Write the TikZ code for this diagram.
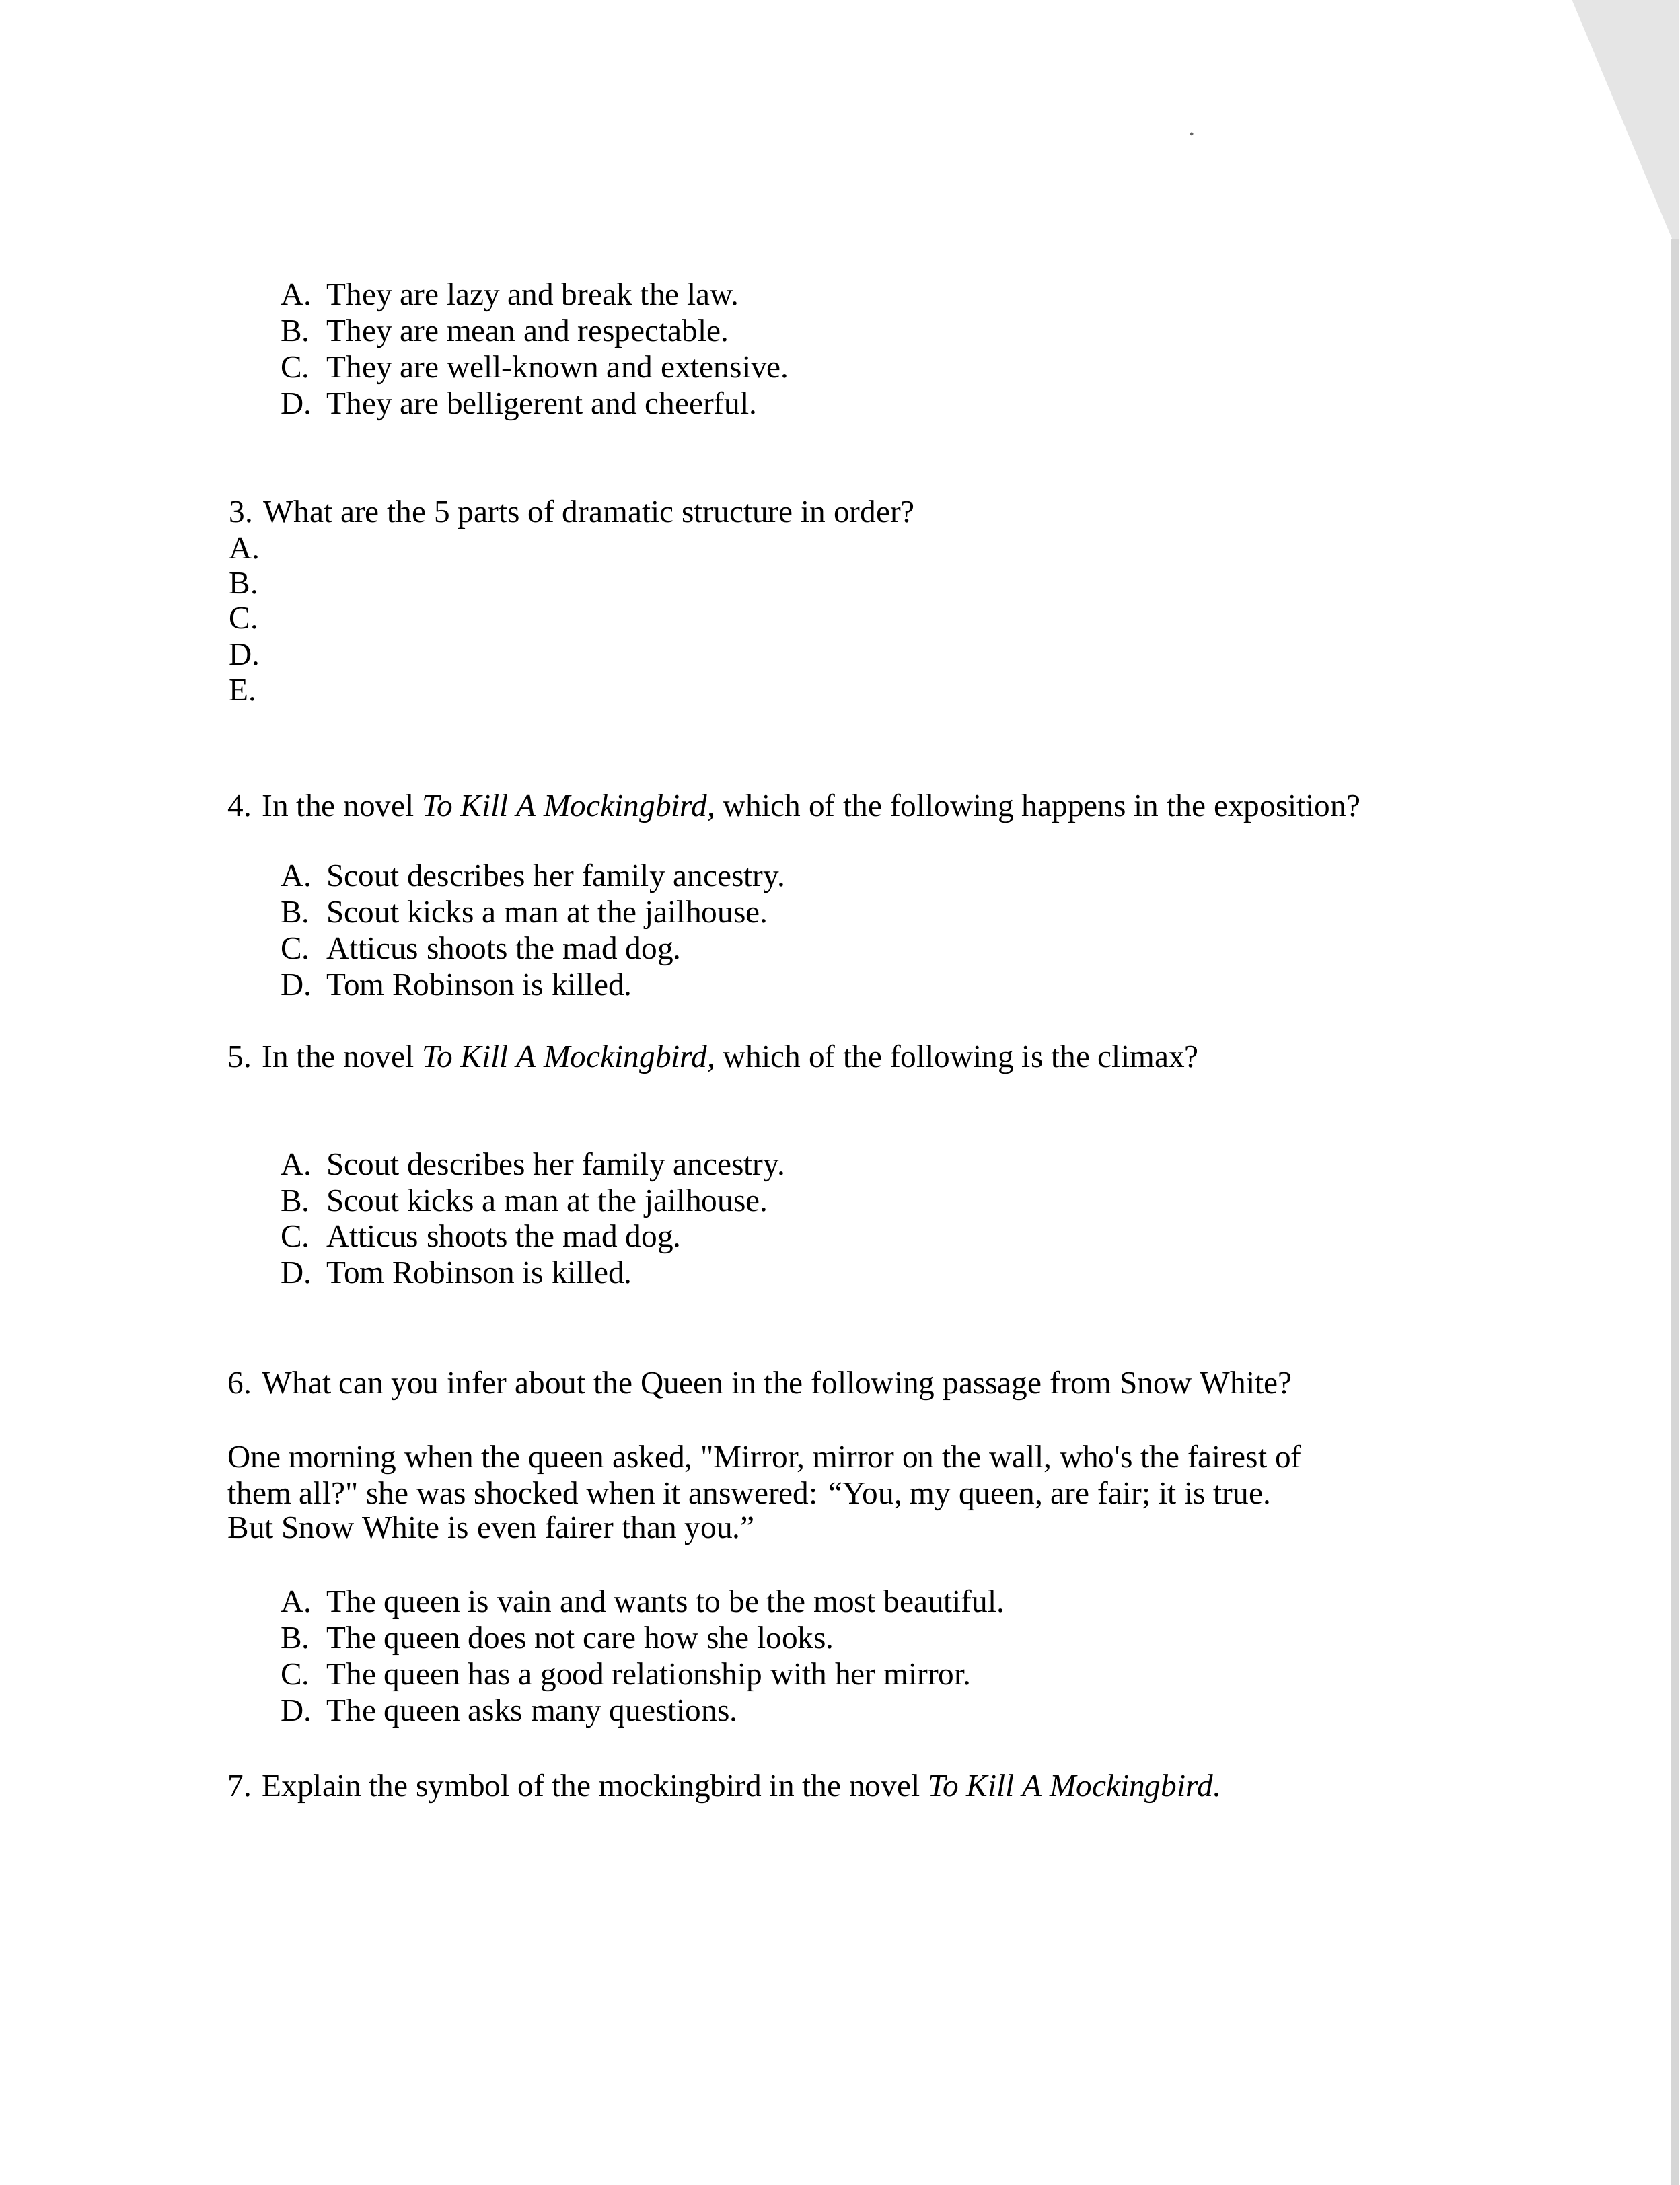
\documentclass[tikz,border=0pt]{standalone}
\usepackage{fontspec}
\setmainfont{Liberation Serif}
\begin{document}
\begin{tikzpicture}[x=0.5079pt,y=-0.5079pt,
  txt/.style={anchor=base west,inner sep=0pt,font=\fontsize{11.6}{14}\selectfont},
  shade/.style={fill=black!10,draw=none}]
\useasboundingbox (0,0) rectangle (1205,1568);
\fill[white] (0,0) rectangle (1205,1568);
% page curl shadow at right edge
\fill[shade] (1128,0) -- (1205,0) -- (1205,175) -- (1200,172) -- cycle;
\fill[black!16] (1199,172) rectangle (1205,1568);
\fill[black!60] (855,96) circle (1.2);
% question 2 options
\node[txt] (a2l) at (201,219) {A.};
\node[txt] (a2)  at (234,219) {They are lazy and break the law.};
\node[txt] (b2l) at (201,245) {B.};
\node[txt] (b2)  at (234,245) {They are mean and respectable.};
\node[txt] (c2l) at (201,271) {C.};
\node[txt] (c2)  at (234,271) {They are well-known and extensive.};
\node[txt] (d2l) at (201,297) {D.};
\node[txt] (d2)  at (234,297) {They are belligerent and cheerful.};
% question 3
\node[txt] (q3) at (164,375) {3. What are the 5 parts of dramatic structure in order?};
\node[txt] (q3a) at (164,401) {A.};
\node[txt] (q3b) at (164,426) {B.};
\node[txt] (q3c) at (164,451) {C.};
\node[txt] (q3d) at (164,477) {D.};
\node[txt] (q3e) at (164,503) {E.};
% question 4
\node[txt] (q4) at (163,586) {4. In the novel \textit{To Kill A Mockingbird,} which of the following happens in the exposition?};
\node[txt] (a4l) at (201,636) {A.};
\node[txt] (a4)  at (234,636) {Scout describes her family ancestry.};
\node[txt] (b4l) at (201,662) {B.};
\node[txt] (b4)  at (234,662) {Scout kicks a man at the jailhouse.};
\node[txt] (c4l) at (201,688) {C.};
\node[txt] (c4)  at (234,688) {Atticus shoots the mad dog.};
\node[txt] (d4l) at (201,714) {D.};
\node[txt] (d4)  at (234,714) {Tom Robinson is killed.};
% question 5
\node[txt] (q5) at (163,766) {5. In the novel \textit{To Kill A Mockingbird,} which of the following is the climax?};
\node[txt] (a5l) at (201,843) {A.};
\node[txt] (a5)  at (234,843) {Scout describes her family ancestry.};
\node[txt] (b5l) at (201,869) {B.};
\node[txt] (b5)  at (234,869) {Scout kicks a man at the jailhouse.};
\node[txt] (c5l) at (201,895) {C.};
\node[txt] (c5)  at (234,895) {Atticus shoots the mad dog.};
\node[txt] (d5l) at (201,921) {D.};
\node[txt] (d5)  at (234,921) {Tom Robinson is killed.};
% question 6
\node[txt] (q6) at (163,1000) {6. What can you infer about the Queen in the following passage from Snow White?};
\node[txt] (p1) at (163,1053) {One morning when the queen asked, \textquotedbl Mirror, mirror on the wall, who\textquotesingle s the fairest of};
\node[txt] (p2) at (163,1079) {them all?\textquotedbl\ she was shocked when it answered: “You, my queen, are fair; it is true.};
\node[txt] (p3) at (163,1104) {But Snow White is even fairer than you.”};
\node[txt] (a6l) at (201,1157) {A.};
\node[txt] (a6)  at (234,1157) {The queen is vain and wants to be the most beautiful.};
\node[txt] (b6l) at (201,1183) {B.};
\node[txt] (b6)  at (234,1183) {The queen does not care how she looks.};
\node[txt] (c6l) at (201,1209) {C.};
\node[txt] (c6)  at (234,1209) {The queen has a good relationship with her mirror.};
\node[txt] (d6l) at (201,1235) {D.};
\node[txt] (d6)  at (234,1235) {The queen asks many questions.};
% question 7
\node[txt] (q7) at (163,1289) {7. Explain the symbol of the mockingbird in the novel \textit{To Kill A Mockingbird}.};
\end{tikzpicture}
\end{document}
